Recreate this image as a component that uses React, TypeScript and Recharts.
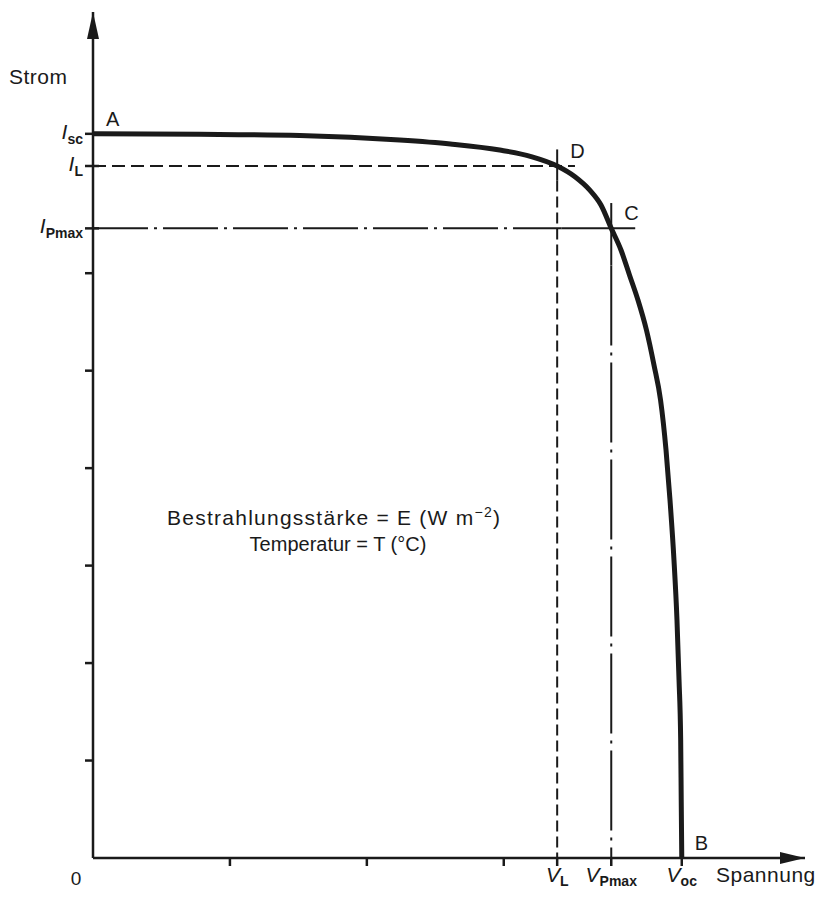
import { ComposedChart, Line, Scatter, XAxis, YAxis, ReferenceLine } from "recharts";

const FONT = "'Liberation Sans', Arial, sans-serif";
const INK = "#1a1a1a";

// axis extents (arrow tips) in chart units
const V_MAX = 5.2;
const I_MAX = 8.68;

// characteristic points
const Isc = 7.43;
const IL = 7.1;
const IPmax = 6.46;
const VL = 3.39;
const VPmax = 3.785;
const Voc = 4.3;

// I-V curve
const curveV = [
  0, 0.78, 1.51, 2.24, 2.61, 2.97, 3.2, 3.39, 3.52, 3.63, 3.71, 3.785,
  3.856, 3.918, 3.98, 4.042, 4.097, 4.145, 4.185, 4.214, 4.243, 4.265, 4.28, 4.292, 4.296, 4.3,
];
const curveI = [
  7.43, 7.425, 7.413, 7.367, 7.326, 7.264, 7.197, 7.1, 6.99, 6.85, 6.7, 6.46,
  6.238, 5.982, 5.725, 5.417, 5.058, 4.699, 4.186, 3.673, 3.058, 2.442, 1.826, 1.211, 0.595, 0,
];

const xTicks = [0, 1, 2, 3, VL, VPmax, Voc];
const yTicks = [1, 2, 3, 4, 5, 6, IPmax, IL, Isc];

const xLabels: Record<string, [string, string]> = {
  [VL]: ["V", "L"],
  [VPmax]: ["V", "Pmax"],
  [Voc]: ["V", "oc"],
};
const yLabels: Record<string, [string, string]> = {
  [Isc]: ["I", "sc"],
  [IL]: ["I", "L"],
  [IPmax]: ["I", "Pmax"],
};

const pointNames = ["A", "D", "C", "B"];
const pointV = [0, VL, VPmax, Voc];
const pointI = [Isc, IL, IPmax, 0];

const curveData = curveV.map((v, k) => ({ v, i: curveI[k] }));
const pointData = pointNames.map((name, k) => ({ v: pointV[k], i: pointI[k], name }));

const XTick = (props: any) => {
  const { x, payload } = props;
  const val = payload.value;
  const top = 858;
  if (val === 0) {
    return (
      <text x={x - 17} y={top + 27} textAnchor="middle" fontFamily={FONT} fontSize={19} fill={INK}>
        0
      </text>
    );
  }
  const lab = xLabels[String(val)];
  return (
    <g>
      <line x1={x} x2={x} y1={top} y2={top + 8} stroke={INK} strokeWidth={2.5} />
      {lab && (
        <text x={x} y={top + 24} textAnchor="middle" fontFamily={FONT} fontSize={21} fill={INK}>
          <tspan fontStyle="italic">{lab[0]}</tspan>
          <tspan fontSize={14} fontWeight={600} dy={4}>{lab[1]}</tspan>
        </text>
      )}
    </g>
  );
};

const YTick = (props: any) => {
  const { y, payload } = props;
  const val = payload.value;
  const left = 93;
  const lab = yLabels[String(val)];
  return (
    <g>
      <line x1={left - 8} x2={lab ? left + 6 : left} y1={y} y2={y} stroke={INK} strokeWidth={2.5} />
      {lab && (
        <text x={left - 10} y={y + 5} textAnchor="end" fontFamily={FONT} fontSize={21} fill={INK}>
          <tspan fontStyle="italic">{lab[0]}</tspan>
          <tspan fontSize={14} fontWeight={600} dy={5}>{lab[1]}</tspan>
        </text>
      )}
    </g>
  );
};

const XArrow = (props: any) => {
  const { cx, cy } = props;
  return <path d={`M${cx},${cy} L${cx - 25},${cy - 6} L${cx - 25},${cy + 6} Z`} fill={INK} />;
};

const YArrow = (props: any) => {
  const { cx, cy } = props;
  return <path d={`M${cx},${cy} L${cx - 6},${cy + 27} L${cx + 6},${cy + 27} Z`} fill={INK} />;
};

const PointLabel = (props: any) => {
  const { cx, cy, payload } = props;
  return (
    <text x={cx + 13} y={cy - 8} fontFamily={FONT} fontSize={20} fill={INK}>
      {payload.name}
    </text>
  );
};

export default function App() {
  return (
    <div style={{ position: "absolute", left: 0, top: 0, background: "#fff" }}>
      <ComposedChart width={824} height={898} margin={{ top: 12, right: 19, bottom: 0, left: 0 }}>
        <XAxis
          type="number"
          dataKey="v"
          domain={[0, V_MAX]}
          ticks={xTicks}
          tick={<XTick />}
          tickLine={false}
          axisLine={{ stroke: INK, strokeWidth: 2.5 }}
          height={40}
          interval={0}
        />
        <YAxis
          type="number"
          dataKey="i"
          domain={[0, I_MAX]}
          ticks={yTicks}
          tick={<YTick />}
          tickLine={false}
          axisLine={{ stroke: INK, strokeWidth: 2.5 }}
          width={93}
          interval={0}
        />

        {/* I_L dashed, V_L dashed */}
        <ReferenceLine segment={[{ x: 0, y: IL }, { x: 3.52, y: IL }]} stroke={INK} strokeWidth={2} strokeDasharray="13 6" />
        <ReferenceLine segment={[{ x: VL, y: 7.27 }, { x: VL, y: 6.95 }]} stroke={INK} strokeWidth={2} />
        <ReferenceLine segment={[{ x: VL, y: 6.95 }, { x: VL, y: 0 }]} stroke={INK} strokeWidth={2} strokeDasharray="11 5" />

        {/* I_Pmax and V_Pmax dash-dot */}
        <ReferenceLine segment={[{ x: 0, y: IPmax }, { x: 3.42, y: IPmax }]} stroke={INK} strokeWidth={2} strokeDasharray="55 6 3 6" />
        <ReferenceLine segment={[{ x: 3.42, y: IPmax }, { x: 3.96, y: IPmax }]} stroke={INK} strokeWidth={2} />
        <ReferenceLine segment={[{ x: VPmax, y: 6.72 }, { x: VPmax, y: 6.08 }]} stroke={INK} strokeWidth={2} />
        <ReferenceLine segment={[{ x: VPmax, y: 6.08 }, { x: VPmax, y: 0 }]} stroke={INK} strokeWidth={2} strokeDasharray="80 7 3 7" />

        <Line
          data={curveData}
          dataKey="i"
          type="monotone"
          stroke={INK}
          strokeWidth={5}
          dot={false}
          isAnimationActive={false}
        />

        <Scatter data={[{ v: V_MAX, i: 0 }]} dataKey="i" shape={<XArrow />} isAnimationActive={false} />
        <Scatter data={[{ v: 0, i: I_MAX }]} dataKey="i" shape={<YArrow />} isAnimationActive={false} />
        <Scatter data={pointData} dataKey="i" shape={<PointLabel />} isAnimationActive={false} />

        <text x={9} y={84} fontFamily={FONT} fontSize={21} letterSpacing={0.5} fill={INK}>Strom</text>
        <text x={716} y={882} fontFamily={FONT} fontSize={21} letterSpacing={0.5} fill={INK}>Spannung</text>

        <text x={167} y={525} fontFamily={FONT} fontSize={21} fill={INK} textLength={333} lengthAdjust="spacing">
          Bestrahlungsstärke = E (W m<tspan dy={-8} fontSize={14}>−2</tspan><tspan dy={8}>)</tspan>
        </text>
        <text x={338} y={551} textAnchor="middle" fontFamily={FONT} fontSize={20} fill={INK}>
          Temperatur = T (°C)
        </text>
      </ComposedChart>
    </div>
  );
}
